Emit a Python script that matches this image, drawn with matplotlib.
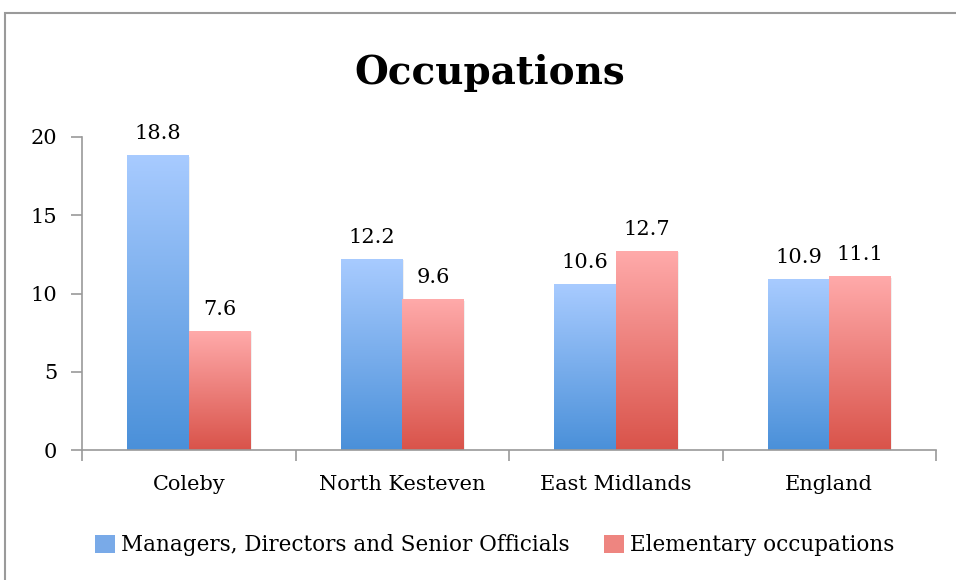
import numpy as np
import matplotlib

matplotlib.use("Agg")
import matplotlib.pyplot as plt
from matplotlib.colors import LinearSegmentedColormap
from matplotlib.patches import Rectangle

categories = ["Coleby", "North Kesteven", "East Midlands", "England"]
series_names = ["Managers, Directors and Senior Officials", "Elementary occupations"]
managers = [18.8, 12.2, 10.6, 10.9]
elementary = [7.6, 9.6, 12.7, 11.1]
yticks = [0, 5, 10, 15, 20]

plt.rcParams["font.family"] = ["DejaVu Serif"]

W, H = 956, 580
fig = plt.figure(figsize=(W / 100, H / 100), dpi=100)
fig.patch.set_facecolor("white")

# outer chart frame
fig.add_artist(Rectangle((5 / W, -0.1), 1.0, 1 - 13 / H + 0.1,
                         transform=fig.transFigure, fill=False,
                         edgecolor="#9a9a9a", linewidth=1.5))

ax = fig.add_axes([82 / W, (H - 450) / H, 854 / W, (450 - 137) / H])

cmaps = [
    LinearSegmentedColormap.from_list("blue", [(74/255, 144/255, 217/255), (168/255, 203/255, 255/255)]),
    LinearSegmentedColormap.from_list("red", [(217/255, 83/255, 74/255), (255/255, 170/255, 170/255)]),
]
mid = ["#79aae8", "#ee8580"]

bw = 0.287
grad = np.linspace(0, 1, 256).reshape(-1, 1)
x = np.arange(len(categories))
for s, vals in enumerate([managers, elementary]):
    for i, v in enumerate(vals):
        x0 = x[i] - bw + s * bw
        # faint shadow
        ax.add_patch(Rectangle((x0 + 0.008, 0), bw, v - 0.08, facecolor="#000000",
                               alpha=0.06, edgecolor="none", zorder=1))
        ax.imshow(grad, extent=[x0, x0 + bw, 0, v], origin="lower", aspect="auto",
                  cmap=cmaps[s], zorder=2, interpolation="bilinear")
        ax.annotate(f"{v}", (x0 + bw / 2, v), xytext=(0, 9), textcoords="offset points",
                    ha="center", va="bottom", fontsize=15)

ax.set_xlim(-0.5, len(categories) - 0.5)
ax.set_ylim(0, 20)
ax.set_yticks(yticks)
ax.set_yticklabels([str(t) for t in yticks], fontsize=15)
ax.set_xticks(np.arange(-0.5, len(categories)), minor=False)
ax.set_xticklabels([])
ax.set_xticks(x, minor=True)
ax.set_xticklabels(categories, minor=True, fontsize=15)
ax.tick_params(axis="x", which="minor", length=0, pad=18)
ax.tick_params(axis="x", which="major", length=8, color="#9a9a9a", width=1.2)
ax.tick_params(axis="y", length=8, color="#9a9a9a", width=1.2, pad=10)
for side in ["top", "right"]:
    ax.spines[side].set_visible(False)
for side in ["left", "bottom"]:
    ax.spines[side].set_color("#9a9a9a")
    ax.spines[side].set_linewidth(1.2)

fig.text(490 / W, 1 - 73 / H, "Occupations", ha="center", va="center",
         fontsize=28, fontweight="bold")

handles = [Rectangle((0, 0), 1, 1, facecolor=c, edgecolor="none") for c in mid]
fig.legend(handles, series_names, loc="center", bbox_to_anchor=(495 / W, 1 - 545 / H),
           ncol=2, frameon=False, fontsize=15.5, handlelength=0.9, handleheight=0.9,
           handletextpad=0.3, columnspacing=1.6)

fig.savefig("out.png", dpi=100)
